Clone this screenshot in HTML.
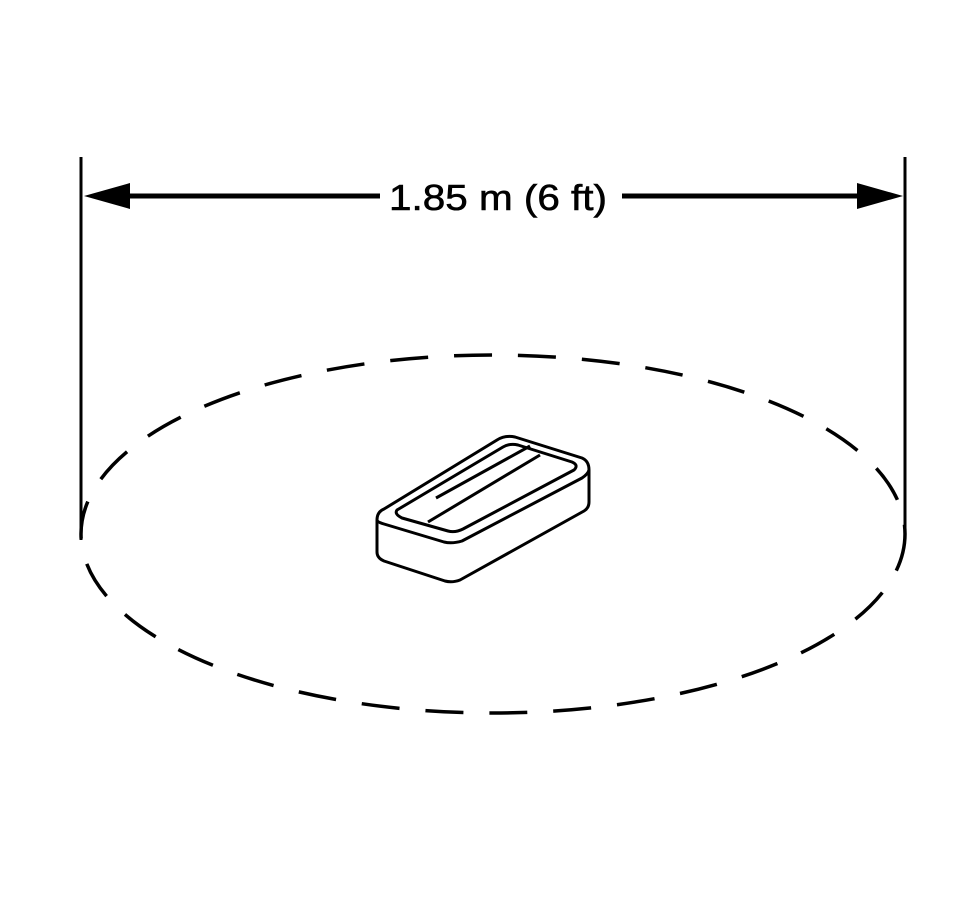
<!DOCTYPE html>
<html><head><meta charset="utf-8"><style>html,body{margin:0;padding:0;background:#fff}svg{display:block}</style></head>
<body>
<svg width="976" height="917" viewBox="0 0 976 917" xmlns="http://www.w3.org/2000/svg">
<rect width="976" height="917" fill="#fff"/>
<line x1="81" y1="157" x2="81" y2="540" stroke="#000" stroke-width="3"/>
<line x1="905" y1="157" x2="905" y2="540" stroke="#000" stroke-width="3"/>
<line x1="125" y1="196" x2="380" y2="196" stroke="#000" stroke-width="5"/>
<line x1="622" y1="196" x2="862" y2="196" stroke="#000" stroke-width="5"/>
<polygon points="84,196 130,183 130,209" fill="#000"/>
<polygon points="903,196 857,183 857,209" fill="#000"/>
<text x="389" y="210" font-family="Liberation Sans, sans-serif" font-size="36" textLength="218" lengthAdjust="spacingAndGlyphs" fill="#000" stroke="#000" stroke-width="0.6">1.85 m (6 ft)</text>
<ellipse cx="493" cy="534" rx="412" ry="179" fill="none" stroke="#000" stroke-width="3.5" stroke-dasharray="38,26"/>
<g fill="none" stroke="#000" stroke-width="3" stroke-linejoin="round">
<path d="M377,520 L377,552 Q377,558 384,561 L445,581 Q452,583 460,580 L584,511 Q589,508 589,502 L589,470"/>
<path d="M377,520 Q377,512 384,509 L497,440 Q505,435 515,437 L582,458 Q589,461 589,470 Q588,474 582,478 L462,541 Q452,544 444,542 L384,524 Q377,522 377,520 Z"/>
<path d="M397,510 L503,447 Q510,443 518,445 L572,462 Q579,465 574,470 L463,529 Q455,533 448,531 L402,518 Q394,514 397,510 Z"/>
<path d="M428,522 L540,455"/>
<path d="M436,498 L530,446"/>
</g>
</svg>
</body></html>
